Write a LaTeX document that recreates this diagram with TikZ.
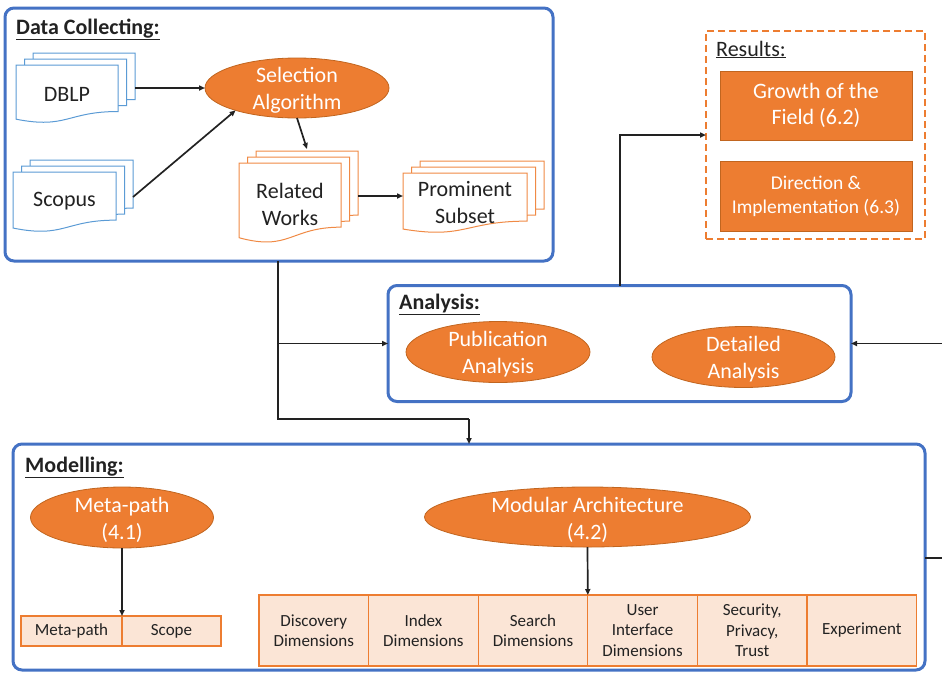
\documentclass[tikz,border=0pt]{standalone}
\usepackage{fontspec}
\setmainfont{Carlito}
\usetikzlibrary{arrows.meta,shapes.geometric}
\definecolor{oblue}{HTML}{4472C4}
\definecolor{orng}{HTML}{ED7D31}
\definecolor{dorng}{HTML}{C1651F}
\definecolor{lblue}{HTML}{5B9BD5}
\definecolor{lorng}{HTML}{F08A45}
\definecolor{pfill}{HTML}{FBE5D6}
\definecolor{txt}{HTML}{222222}
\newcommand{\docshape}[5]{%
  \draw[#1] (#2,#3) -- ({#2+#4},#3) -- ({#2+#4},{#3+0.802*#5})
    .. controls ({#2+0.5*#4},{#3+0.802*#5}) and ({#2+0.5*#4},{#3+1.107*#5}) .. (#2,{#3+0.934*#5}) -- cycle;}
\newcommand{\docstack}[5]{%
  \docshape{#1}{#2+17}{#3-12}{#4}{#5}%
  \docshape{#1}{#2+8.5}{#3-6}{#4}{#5}%
  \docshape{#1}{#2}{#3}{#4}{#5}}
\begin{document}
\begin{tikzpicture}[x=1pt,y=-1pt,
  panel/.style={draw=oblue, line width=3pt, rounded corners=9pt, anchor=north west, inner sep=0pt, outer sep=0pt},
  oval/.style={ellipse, fill=orng, draw=dorng, line width=0.8pt, inner sep=0pt, outer sep=0pt},
  ovaltext/.style={text=white, align=center, font=\fontsize{22}{27}\selectfont, inner sep=0pt, yshift=-2.5pt},
  title/.style={anchor=base west, inner sep=0pt, text=txt, font=\fontsize{22}{26}\selectfont\bfseries},
  doctext/.style={text=txt, align=center, font=\fontsize{22}{27}\selectfont, inner sep=0pt},
  bdoc/.style={fill=white, draw=lblue, line width=1pt},
  odoc/.style={fill=white, draw=lorng, line width=1pt},
  resbox/.style={fill=orng, draw=dorng, line width=1pt, text=white, align=center, anchor=north west, inner sep=0pt, outer sep=0pt, minimum width=192pt},
  cell/.style={draw=orng, fill=pfill, line width=1.2pt, text=txt, align=center, font=\fontsize{17}{20.5}\selectfont, anchor=north west, inner sep=0pt, outer sep=0pt},
  conn/.style={line width=1.7pt, draw=txt},
  arr/.style={conn, -{Triangle[length=6pt,width=5pt]}}]
\useasboundingbox (0,0) rectangle (942,673);

% ---------- Data Collecting ----------
\node[panel, minimum width=548pt, minimum height=253pt] (datac) at (5,8) {};
\node[title] (dctitle) at (16,34) {\underline{Data Collecting:}};

\docstack{bdoc}{16}{65}{102}{58}
\node[doctext] (dblp) at (67,94) {DBLP};
\docstack{bdoc}{13}{172}{103}{60}
\node[doctext] (scopus) at (64.5,201) {Scopus};
\docstack{odoc}{239}{163}{102}{80}
\node[doctext] (related) at (290,204) {Related\\Works};
\docstack{odoc}{403}{173}{124}{60}
\node[doctext] (prominent) at (465,203) {Prominent\\Subset};

\node[oval, minimum width=184pt, minimum height=60pt] (sel) at (297,88) {};
\node[ovaltext] (seltext) at (sel) {Selection\\Algorithm};

\coordinate (dblpe) at (135,88);
\coordinate (scopuse) at (133,197);
\coordinate (reln) at (307,149);
\coordinate (rele) at (358,196);
\coordinate (promw) at (403,196);
\draw[arr] (dblpe) -- (sel.west);
\draw[arr] (scopuse) -- (sel.200);
\draw[arr] (sel.south) -- (reln);
\draw[arr] (rele) -- (promw);

% ---------- Results ----------
\node[draw=orng, line width=2pt, dash pattern=on 7pt off 4pt, anchor=north west, inner sep=0pt, outer sep=0pt,
      minimum width=219pt, minimum height=208pt] (results) at (706,31) {};
\node[anchor=base west, inner sep=0pt, text=txt, font=\fontsize{22}{26}\selectfont] (restitle) at (716,56) {\underline{Results:}};
\node[resbox, minimum height=69pt, font=\fontsize{22}{26}\selectfont] (growth) at (720,71) {Growth of the\\Field (6.2)};
\node[resbox, minimum height=70pt, font=\fontsize{19.5}{24}\selectfont] (direction) at (720,161) {Direction \&\\Implementation (6.3)};

% ---------- Analysis ----------
\node[panel, minimum width=463pt, minimum height=116pt] (analysis) at (388,285.5) {};
\node[title] (antitle) at (399,309) {\underline{Analysis:}};
\node[oval, minimum width=184pt, minimum height=61pt] (pub) at (498,352) {};
\node[ovaltext] at (pub) {Publication\\Analysis};
\node[oval, minimum width=183pt, minimum height=61pt] (det) at (743.5,357) {};
\node[ovaltext] at (det) {Detailed\\Analysis};

% ---------- Modelling ----------
\node[panel, minimum width=912pt, minimum height=226pt] (model) at (13,444) {};
\node[title] (motitle) at (25,472) {\underline{Modelling:}};
\node[oval, minimum width=183pt, minimum height=61pt] (meta) at (122,517.5) {};
\node[ovaltext] at (meta) {Meta-path\\(4.1)};
\node[oval, minimum width=326pt, minimum height=60pt] (modarch) at (587.5,517) {};
\node[ovaltext] at (modarch) {Modular Architecture\\(4.2)};

\node[cell, minimum width=101pt, minimum height=30pt] (mp1) at (21,616) {Meta-path};
\node[cell, minimum width=99pt, minimum height=30pt] (mp2) at (mp1.north east) {Scope};

\node[cell, minimum width=109.6pt, minimum height=71pt] (c1) at (259,595) {Discovery\\Dimensions};
\node[cell, minimum width=109.6pt, minimum height=71pt] (c2) at (c1.north east) {Index\\Dimensions};
\node[cell, minimum width=109.6pt, minimum height=71pt] (c3) at (c2.north east) {Search\\Dimensions};
\node[cell, minimum width=109.6pt, minimum height=71pt] (c4) at (c3.north east) {User\\Interface\\Dimensions};
\node[cell, minimum width=109.6pt, minimum height=71pt] (c5) at (c4.north east) {Security,\\Privacy,\\Trust};
\node[cell, minimum width=109.6pt, minimum height=71pt] (c6) at (c5.north east) {Experiment};

\draw[arr] (meta.south) -- (mp1.north east);
\draw[arr] (modarch.south) -- (c3.north east);

% ---------- Connectors between panels ----------
\coordinate (split) at (278,343.5);
\coordinate (j1) at (278,419);
\coordinate (j2) at (469,419);
\draw[conn] (split |- datac.south) -- (j1) -- (j2);
\draw[arr] (j2) -- (j2 |- model.north);
\draw[arr] (split) -- (analysis.west);

\coordinate (r1) at (620,135);
\draw[arr] (r1 |- analysis.north) -- (r1) -- (r1 -| results.west);

\coordinate (redge) at (942,343.5);
\draw[arr] (redge) -- (analysis.east);
\coordinate (redge2) at (942,558);
\draw[conn] (model.east |- redge2) -- (redge2);
\end{tikzpicture}
\end{document}
